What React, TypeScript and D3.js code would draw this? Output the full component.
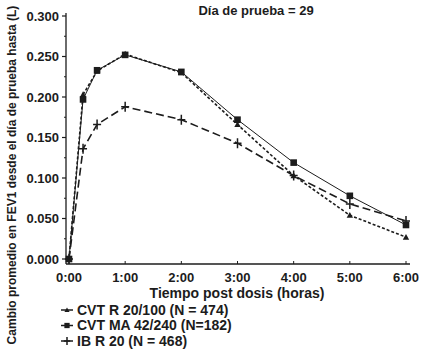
import React from "react";
import * as d3 from "d3";

const times = [0, 0.25, 0.5, 1, 2, 3, 4, 5, 6];
const cvtR = [0, 0.203, 0.232, 0.253, 0.23, 0.166, 0.103, 0.054, 0.027];
const cvtMA = [0, 0.197, 0.233, 0.252, 0.231, 0.172, 0.119, 0.078, 0.042];
const ibR = [0, 0.136, 0.166, 0.188, 0.172, 0.143, 0.103, 0.068, 0.047];
const xTickLabels = ["0:00", "1:00", "2:00", "3:00", "4:00", "5:00", "6:00"];
const yTicks = [0, 0.05, 0.1, 0.15, 0.2, 0.25, 0.3];
const seriesNames = ["CVT R 20/100 (N = 474)", "CVT MA 42/240 (N=182)", "IB R 20 (N = 468)"];
const title = "Día de prueba = 29";
const xTitle = "Tiempo post dosis (horas)";
const yTitle = "Cambio promedio en FEV1 desde el día de prueba hasta (L)";

const INK = "#1c1c1c";
const FONT = "'Liberation Sans', Arial, sans-serif";

export default function App() {
  const x = d3.scaleLinear().domain([0, 6]).range([69, 406]);
  const y = d3.scaleLinear().domain([0, 0.3]).range([259, 16]);
  const line = d3
    .line<[number, number]>()
    .x((d) => x(d[0]))
    .y((d) => y(d[1]));
  const pts = (vals: number[]) => times.map((t, i) => [t, vals[i]] as [number, number]);
  const minor = d3.range(0.025, 0.3, 0.05);

  const tri = (cx: number, cy: number, s = 3.5) =>
    `M${cx},${cy - s}L${cx + s},${cy + s * 0.8}L${cx - s},${cy + s * 0.8}Z`;

  const series = [
    { vals: cvtR, dash: "3,2", width: 1.6, marker: "tri" },
    { vals: cvtMA, dash: "", width: 1, marker: "sq" },
    { vals: ibR, dash: "8,4", width: 1.6, marker: "plus" },
  ];

  const drawMarker = (kind: string, cx: number, cy: number, key: string, s = 1) => {
    if (kind === "tri") return <path key={key} d={tri(cx, cy, 3.2 * s)} fill={INK} />;
    if (kind === "sq")
      return <rect key={key} x={cx - 3.3 * s} y={cy - 3.3 * s} width={6.6 * s} height={6.6 * s} fill={INK} />;
    return (
      <path
        key={key}
        d={`M${cx - 4 * s},${cy}H${cx + 4 * s}M${cx},${cy - 5 * s}V${cy + 5 * s}`}
        stroke={INK}
        strokeWidth={1.5}
      />
    );
  };

  const legendY = [310, 325.5, 341];

  return (
    <svg
      width={425}
      height={352}
      style={{ position: "absolute", left: 0, top: 0, background: "#fff" }}
      fontFamily={FONT}
    >
      <rect width={425} height={352} fill="#fff" />
      <text x={256} y={15} textAnchor="middle" fontWeight="bold" fontSize={13} fill={INK}>
        {title}
      </text>
      {/* Y axis */}
      <line x1={66} x2={66} y1={13} y2={264} stroke={INK} strokeWidth={1.3} />
      {yTicks.map((t) => (
        <g key={t}>
          <line x1={62} x2={66} y1={y(t)} y2={y(t)} stroke={INK} strokeWidth={1.2} />
          <text x={59} y={y(t)} dy="0.35em" textAnchor="end" fontWeight="bold" fontSize={13} fill={INK}>
            {t.toFixed(3)}
          </text>
        </g>
      ))}
      {minor.map((t) => (
        <line key={t} x1={64} x2={66} y1={y(t)} y2={y(t)} stroke={INK} strokeWidth={1} />
      ))}
      {/* X axis */}
      <line x1={66} x2={410} y1={264} y2={264} stroke={INK} strokeWidth={1.3} />
      {xTickLabels.map((lab, i) => (
        <g key={lab}>
          <line x1={x(i)} x2={x(i)} y1={261} y2={264} stroke={INK} strokeWidth={1} />
          <text x={x(i)} y={277} dy="0.35em" textAnchor="middle" fontWeight="bold" fontSize={13} fill={INK}>
            {lab}
          </text>
        </g>
      ))}
      <text x={237} y={293} dy="0.35em" textAnchor="middle" fontWeight="bold" fontSize={14} fill={INK}>
        {xTitle}
      </text>
      <text
        transform={`translate(12,175) rotate(-90)`}
        textAnchor="middle"
        dy="0.35em"
        fontWeight="bold"
        fontSize={12}
        fill={INK}
      >
        {yTitle}
      </text>
      {/* Series */}
      {series.map((s, si) => (
        <g key={si}>
          <path
            d={line(pts(s.vals)) || ""}
            fill="none"
            stroke={INK}
            strokeWidth={s.width}
            strokeDasharray={s.dash || undefined}
          />
          {pts(s.vals).map((p, i) => drawMarker(s.marker, x(p[0]), y(p[1]), `${si}-${i}`))}
        </g>
      ))}
      {/* Legend */}
      {series.map((s, si) => (
        <g key={`lg${si}`}>
          <line x1={61} x2={73} y1={legendY[si]} y2={legendY[si]} stroke={INK} strokeWidth={1.5} />
          {drawMarker(s.marker, 67, legendY[si], `lm${si}`, 0.8)}
          <text x={77} y={legendY[si]} dy="0.35em" fontWeight="bold" fontSize={14} fill={INK}>
            {seriesNames[si]}
          </text>
        </g>
      ))}
    </svg>
  );
}
